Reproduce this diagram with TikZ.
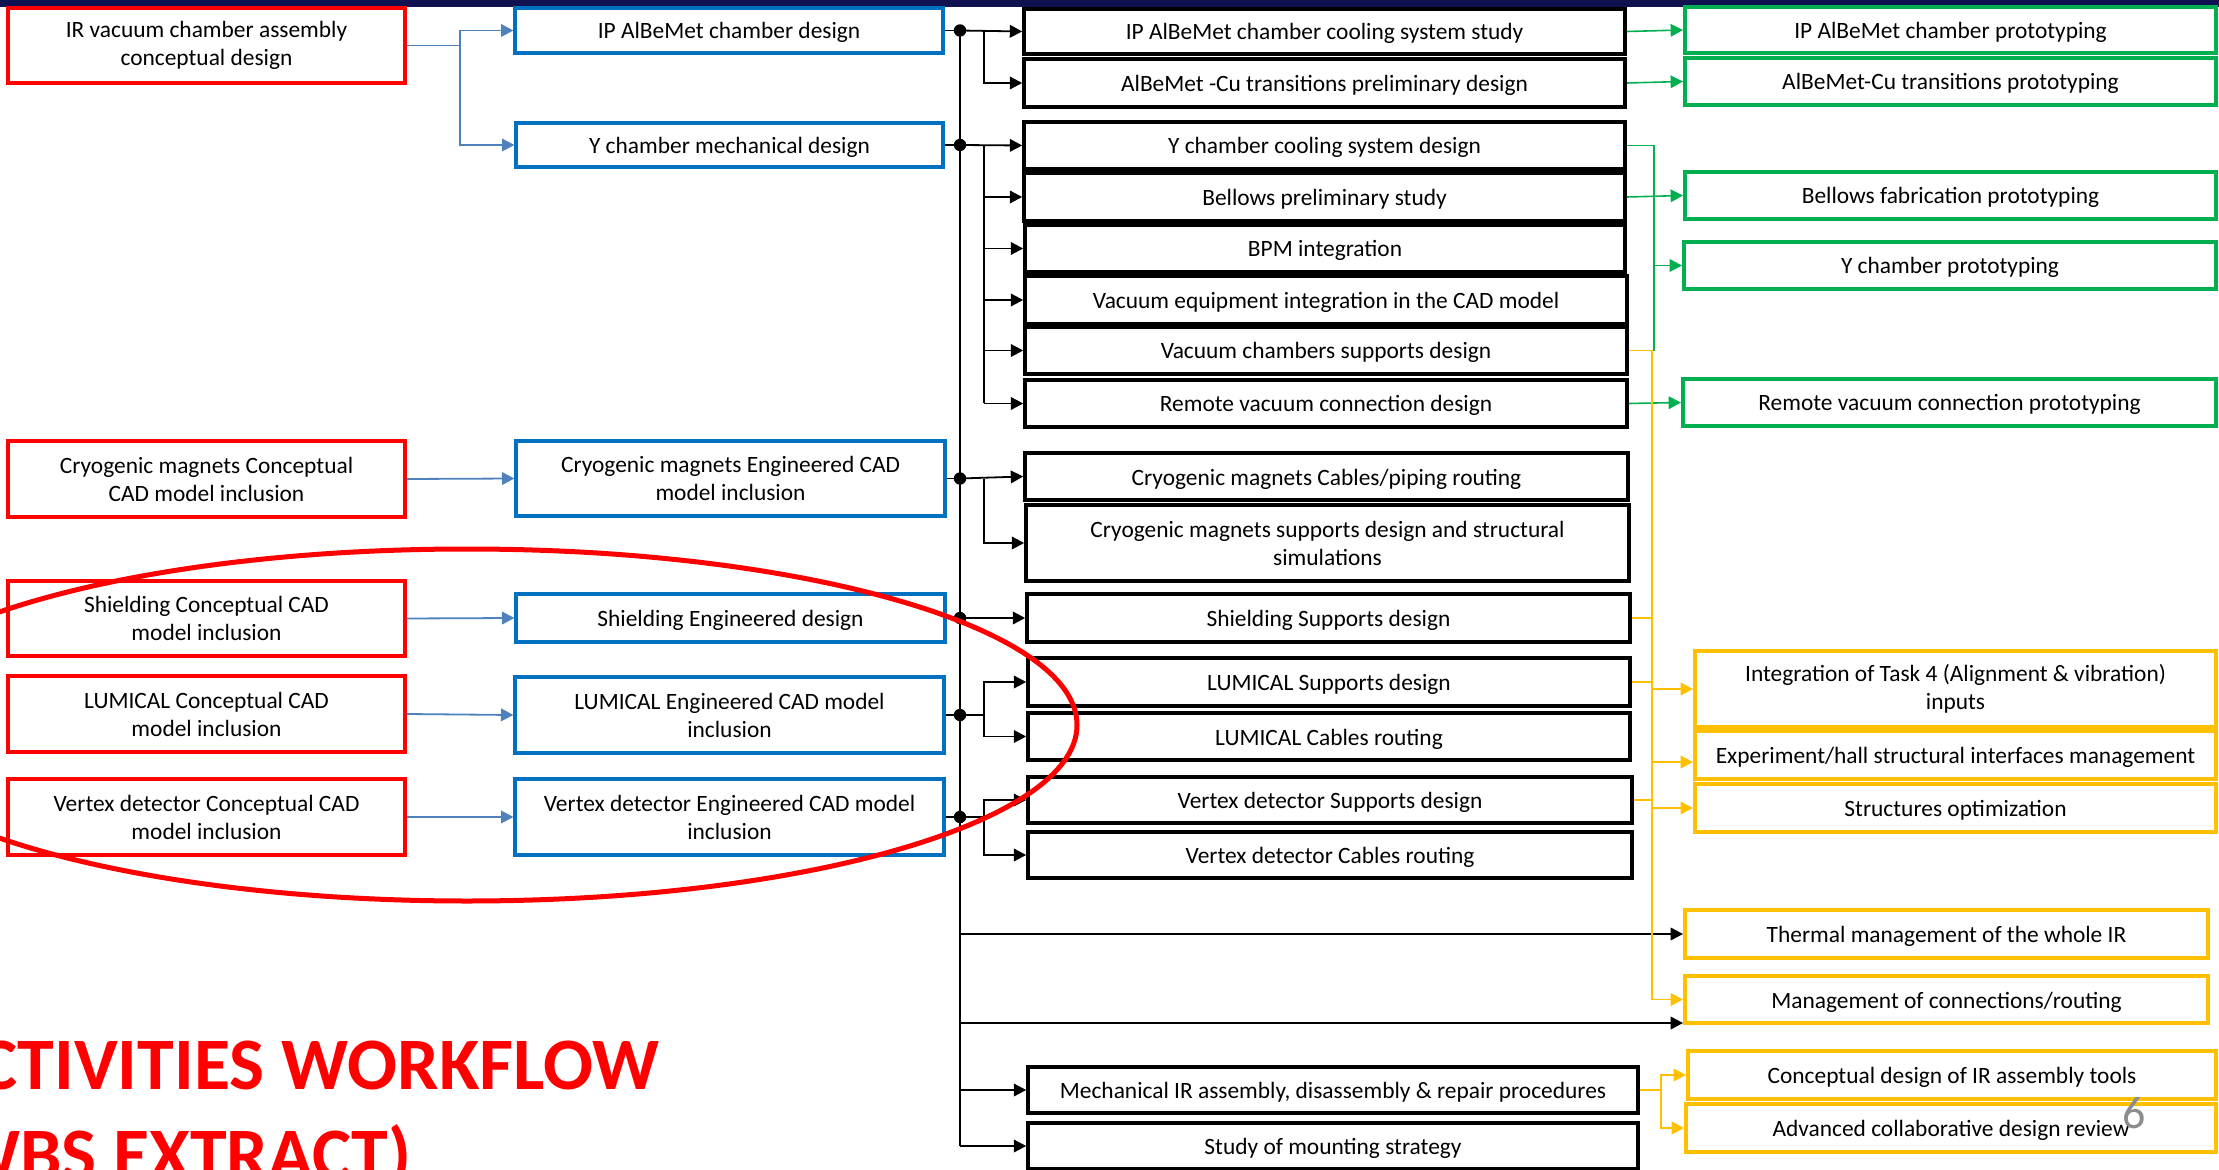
\documentclass[tikz,border=0pt]{standalone}
\usepackage{fontspec}
\setmainfont{Carlito}
\usetikzlibrary{arrows.meta,calc}
\definecolor{cred}{HTML}{FF0000}
\definecolor{cblue}{HTML}{0070C0}
\definecolor{cline}{HTML}{4F81BD}
\definecolor{cgreen}{HTML}{00B050}
\definecolor{cyel}{HTML}{FFC000}
\definecolor{cnavy}{HTML}{0F1150}
\definecolor{cgray}{HTML}{8C8C8C}
\newcommand\bx[7]{\node[#2, minimum width={(#5-#3)*0.5pt}, minimum height={(#6-#4)*0.5pt}] (#1) at ({(#3+#5)/2},{(#4+#6)/2}) {#7};}
\tikzset{
  box/.style={draw, fill=white, inner sep=0pt, align=center, font=\fontsize{11.7}{14}\selectfont},
  one/.style={text height=9.5pt, text depth=1pt},
  redbox/.style={box, draw=cred, line width=1.6pt},
  bluebox/.style={box, draw=cblue, line width=1.6pt},
  blackbox/.style={box, draw=black, line width=1.8pt},
  greenbox/.style={box, draw=cgreen, line width=2pt},
  yelbox/.style={box, draw=cyel, line width=2pt},
  tip/.style={-{Triangle[length=6.2pt,width=6.3pt]}},
  bconn/.style={draw=black, line width=0.9pt},
  barr/.style={bconn, tip},
  bluearr/.style={draw=cline, line width=0.9pt, tip},
  gconn/.style={draw=cgreen, line width=0.8pt},
  garr/.style={gconn, tip},
  yconn/.style={draw=cyel, line width=0.85pt},
  yarr/.style={yconn, tip},
  busdot/.style={fill=black},
}
\begin{document}
\begin{tikzpicture}[x=0.5pt,y=-0.5pt]
\useasboundingbox (0,0) rectangle (2219,1170);
\clip (0,0) rectangle (2219,1170);
\fill[cnavy] (0,0) rectangle (2219,7);

% red boxes
\bx{irvac}{redbox}{8}{8}{405}{83}{IR vacuum chamber assembly\\conceptual design}
\bx{cryoc}{redbox}{8}{441}{405}{517}{Cryogenic magnets Conceptual\\CAD model inclusion}
\bx{shieldc}{redbox}{8}{581}{405}{656}{Shielding Conceptual CAD\\model inclusion}
\bx{lumc}{redbox}{8}{676}{405}{752}{LUMICAL Conceptual CAD\\model inclusion}
\bx{vertc}{redbox}{8}{779}{405}{855}{Vertex detector Conceptual CAD\\model inclusion}

% blue boxes
\bx{ipal}{bluebox,one}{515}{8}{943}{53}{IP AlBeMet chamber design}
\bx{ych}{bluebox,one}{516}{123}{943}{167}{Y chamber mechanical design}
\bx{cryoe}{bluebox}{516}{441}{945}{516}{Cryogenic magnets Engineered CAD\\model inclusion}
\bx{shielde}{bluebox,one}{516}{594}{945}{642}{Shielding Engineered design}
\bx{lume}{bluebox}{515}{677}{944}{753}{LUMICAL Engineered CAD model\\inclusion}
\bx{verte}{bluebox}{515}{779}{944}{855}{Vertex detector Engineered CAD model\\inclusion}

% black boxes
\bx{ipcool}{blackbox,one}{1024}{9}{1625}{54}{IP AlBeMet chamber cooling system study}
\bx{cutr}{blackbox,one}{1024}{59}{1625}{107}{AlBeMet -Cu transitions preliminary design}
\bx{ycool}{blackbox,one}{1024}{122}{1625}{169}{Y chamber cooling system design}
\bx{bell}{blackbox,one}{1024}{173}{1625}{221}{Bellows preliminary study}
\bx{bpm}{blackbox,one}{1025}{225}{1625}{272}{BPM integration}
\bx{vequip}{blackbox,one}{1025}{276}{1627}{324}{Vacuum equipment integration in the CAD model}
\bx{vsup}{blackbox,one}{1025}{327}{1627}{374}{Vacuum chambers supports design}
\bx{remote}{blackbox,one}{1025}{380}{1627}{427}{Remote vacuum connection design}
\bx{cryocab}{blackbox,one}{1025}{453}{1628}{500}{Cryogenic magnets Cables/piping routing}
\bx{cryosup}{blackbox}{1026}{505}{1629}{581}{Cryogenic magnets supports design and structural\\simulations}
\bx{shsup}{blackbox,one}{1027}{594}{1630}{642}{Shielding Supports design}
\bx{lumsup}{blackbox,one}{1028}{658}{1630}{706}{LUMICAL Supports design}
\bx{lumcab}{blackbox,one}{1028}{713}{1630}{760}{LUMICAL Cables routing}
\bx{vxsup}{blackbox,one}{1028}{777}{1632}{823}{Vertex detector Supports design}
\bx{vxcab}{blackbox,one}{1028}{832}{1632}{878}{Vertex detector Cables routing}
\bx{mech}{blackbox,one}{1028}{1067}{1638}{1113}{Mechanical IR assembly, disassembly \& repair procedures}
\bx{study}{blackbox,one}{1028}{1123}{1638}{1169}{Study of mounting strategy}

% green boxes
\bx{ipproto}{greenbox,one}{1685}{7}{2216}{53}{IP AlBeMet chamber prototyping}
\bx{cuproto}{greenbox,one}{1685}{58}{2216}{105}{AlBeMet-Cu transitions prototyping}
\bx{bellproto}{greenbox,one}{1685}{172}{2216}{219}{Bellows fabrication prototyping}
\bx{yproto}{greenbox,one}{1684}{242}{2216}{289}{Y chamber prototyping}
\bx{remproto}{greenbox,one}{1683}{379}{2216}{426}{Remote vacuum connection prototyping}

% yellow boxes
\bx{integ}{yelbox}{1695}{651}{2216}{727}{Integration of Task 4 (Alignment \& vibration)\\inputs}
\bx{exper}{yelbox,one}{1695}{731}{2216}{779}{Experiment/hall structural interfaces management}
\bx{struct}{yelbox,one}{1695}{784}{2216}{832}{Structures optimization}
\bx{thermal}{yelbox,one}{1685}{910}{2208}{958}{Thermal management of the whole IR}
\bx{mgmt}{yelbox,one}{1685}{976}{2208}{1023}{Management of connections/routing}
\bx{ctools}{yelbox,one}{1688}{1051}{2216}{1099}{Conceptual design of IR assembly tools}
\bx{adv}{yelbox,one}{1686}{1104}{2216}{1152}{Advanced collaborative design review}

% helper coordinates
\coordinate (bl) at (460,0);
\coordinate (busx) at (960,0);
\coordinate (bx2) at (984,0);
\coordinate (gx) at (1654,0);
\coordinate (yx) at (1652,0);
\coordinate (mx) at (1661,0);
\coordinate (mgin) at ([yshift=1pt]mgmt.south west);
\coordinate (exin) at ([yshift=-3.5pt]exper.west);

% blue connectors
\draw[bluearr] (irvac.east) -- (irvac.east -| bl) |- (ipal.west);
\draw[bluearr] (irvac.east -| bl) |- (ych.west);
\draw[bluearr] (cryoc.east) -- (cryoe.west);
\draw[bluearr] (shieldc.east) -- (shielde.west);
\draw[bluearr] (lumc.east) -- (lume.west);
\draw[bluearr] (vertc.east) -- (verte.west);

% black bus
\draw[bconn] (ipal.east -| busx) -- (busx |- study.west);
\foreach \n in {ipal,ych,cryoe,shielde,lume,verte}
  \draw[bconn] (\n.east) -- (\n.east -| busx);
% IP group
\draw[barr] (ipal.east -| busx) -- (ipcool.west);
\draw[barr] (ipal.east -| bx2) |- (cutr.west);
% Y group
\draw[barr] (ych.east -| busx) -- (ycool.west);
\draw[bconn] (ych.east -| bx2) -- (bx2 |- remote.west);
\foreach \n in {bell,bpm,vequip,vsup,remote}
  \draw[barr] (bx2 |- \n.west) -- (\n.west);
% cryo group
\draw[barr] (cryoe.east -| busx) -- (cryocab.west);
\draw[barr] (cryoe.east -| bx2) |- (cryosup.west);
% shielding
\draw[barr] (shielde.east -| busx) -- (shsup.west);
% lumical
\draw[bconn] (lume.east -| busx) -- (lume.east -| bx2);
\draw[barr] (lume.east -| bx2) |- (lumsup.west);
\draw[barr] (lume.east -| bx2) |- (lumcab.west);
% vertex
\draw[bconn] (verte.east -| busx) -- (verte.east -| bx2);
\draw[barr] (verte.east -| bx2) |- (vxsup.west);
\draw[barr] (verte.east -| bx2) |- (vxcab.west);
% long arrows
\draw[barr] (busx |- thermal.west) -- (thermal.west);
\draw[barr] (mgin -| busx) -- (mgin);
\draw[barr] (busx |- mech.west) -- (mech.west);
\draw[barr] (busx |- study.west) -- (study.west);
% dots
\foreach \n in {ipal,ych,cryoe,shielde,lume,verte}
  \fill[busdot] (\n.east -| busx) circle[radius=3.1pt];

% green connectors
\draw[garr] (ipcool.east) -- (ipproto.west);
\draw[garr] (cutr.east) -- (cuproto.west);
\draw[gconn] (ycool.east) -| (gx |- vsup.east) -- (vsup.east);
\draw[garr] (bell.east) -- (bellproto.west);
\draw[garr] (gx |- yproto.west) -- (yproto.west);
\draw[garr] (remote.east) -- (remproto.west);

% yellow connectors
\draw[yarr] (vsup.east) -| (yx |- mgmt.west) -- (mgmt.west);
\foreach \n in {shsup,lumsup,vxsup}
  \draw[yconn] (\n.east) -- (\n.east -| yx);
\draw[yarr] (yx |- integ.west) -- (integ.west);
\draw[yarr] (exin -| yx) -- (exin);
\draw[yarr] (yx |- struct.west) -- (struct.west);
\draw[yconn] (mech.east) -- (mech.east -| mx);
\draw[yarr] (mech.east -| mx) |- (ctools.west);
\draw[yarr] (mech.east -| mx) |- (adv.west);

% page number
\node[text=cgray, inner sep=0pt, font=\fontsize{23}{27}\selectfont] (pnum) at (2134,1113) {6};

% title
\node[anchor=base east, text=cred, inner sep=0pt, font=\fontsize{37}{44}\selectfont\bfseries] (t1) at (660,1089) {ACTIVITIES WORKFLOW};
\node[anchor=base east, text=cred, inner sep=0pt, font=\fontsize{37}{44}\selectfont\bfseries] (t2) at (412,1179) {(WBS EXTRACT)};

% red ellipse
\draw[cred, line width=2.5pt] (467,725) ellipse [x radius=305pt, y radius=88pt];
\end{tikzpicture}
\end{document}
